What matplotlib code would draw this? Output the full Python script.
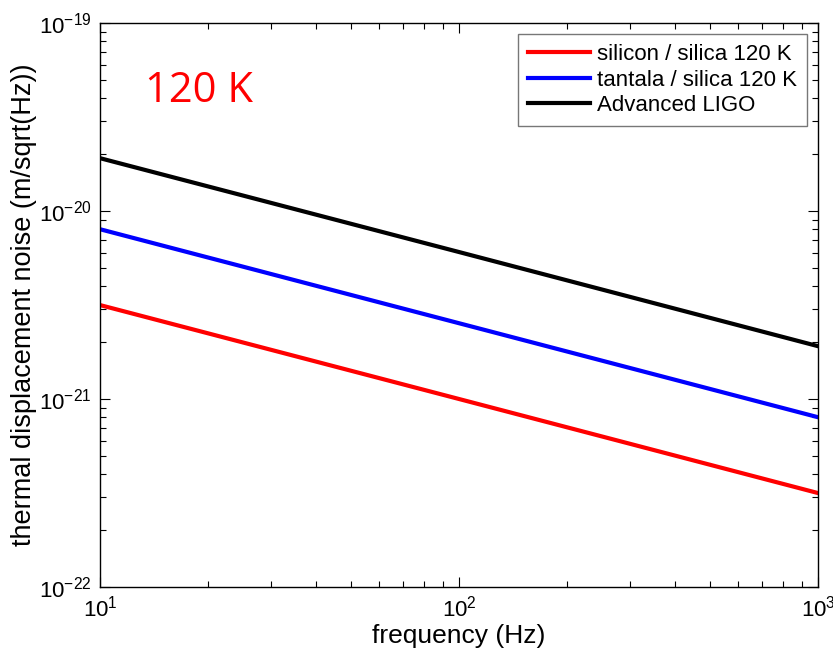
import matplotlib
matplotlib.use("Agg")
import matplotlib.pyplot as plt
from matplotlib.ticker import LogLocator, NullFormatter

plt.rcParams['font.family'] = ['Liberation Sans', 'DejaVu Sans']
plt.rcParams['mathtext.fontset'] = 'custom'
plt.rcParams['mathtext.rm'] = 'Liberation Sans'
plt.rcParams['mathtext.it'] = 'Liberation Sans'

# frequency points (Hz) and noise levels
freq = [10, 100, 1000]
silicon_silica = [3.16e-21, 1.0e-21, 3.16e-22]
tantala_silica = [8.0e-21, 2.53e-21, 8.0e-22]
adv_ligo = [1.91e-20, 6.05e-21, 1.91e-21]

labels = ["silicon / silica 120 K", "tantala / silica 120 K", "Advanced LIGO"]
colors = ["#ff0000", "#0000ff", "#000000"]

fig = plt.figure(figsize=(8.33, 6.59), dpi=100)
ax = fig.add_axes([100/833, 1 - 587/659, 718/833, 564/659])

for y, lab, c in zip([silicon_silica, tantala_silica, adv_ligo], labels, colors):
    ax.loglog(freq, y, color=c, lw=3, label=lab)

ax.set_xlim(10, 1000)
ax.set_ylim(1e-22, 1e-19)

ax.xaxis.set_major_locator(LogLocator(base=10, numticks=10))
ax.yaxis.set_major_locator(LogLocator(base=10, numticks=10))
ax.xaxis.set_minor_locator(LogLocator(base=10, subs=range(2, 10), numticks=20))
ax.yaxis.set_minor_locator(LogLocator(base=10, subs=range(2, 10), numticks=20))
ax.xaxis.set_minor_formatter(NullFormatter())
ax.yaxis.set_minor_formatter(NullFormatter())

ax.tick_params(which='both', direction='in', top=True, right=True, width=0.8)
ax.tick_params(which='major', length=7, labelsize=16)
ax.tick_params(axis='x', which='major', pad=6)
ax.tick_params(axis='y', which='major', pad=6)
ax.tick_params(which='minor', length=4)
for s in ax.spines.values():
    s.set_linewidth(1.0)

ax.set_xlabel("frequency (Hz)", fontsize=19, labelpad=2)
ax.set_ylabel("thermal displacement noise (m/sqrt(Hz))", fontsize=19.5)
ax.yaxis.set_label_coords(-0.088, 0.5)

ax.text(0.063, 0.88, "120 K", transform=ax.transAxes, color="#ff0000",
        fontsize=30, family=['Open Sans', 'DejaVu Sans'], va='center', ha='left')

leg = ax.legend(loc='upper right', fontsize=16, frameon=True, fancybox=False,
                edgecolor='#555555', handlelength=2.8, borderpad=0.45,
                labelspacing=0.2, handletextpad=0.3, borderaxespad=0.5)
leg.get_frame().set_linewidth(1.0)

fig.savefig("out.png", dpi=100)
